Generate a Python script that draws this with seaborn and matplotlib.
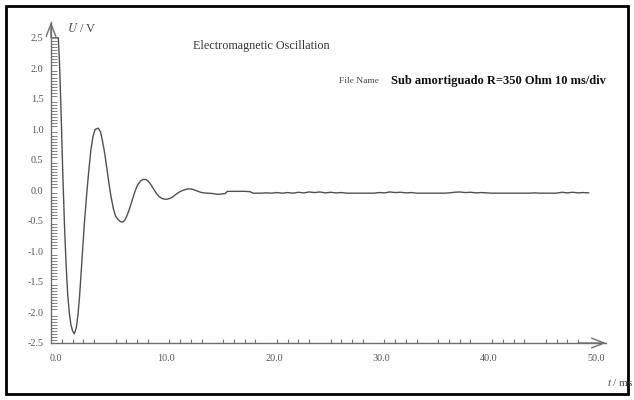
import numpy as np
import pandas as pd
import matplotlib
matplotlib.use("Agg")
import matplotlib.pyplot as plt
from matplotlib.patches import Rectangle
from matplotlib.ticker import FixedLocator, FuncFormatter
import matplotlib.transforms as mtransforms
import seaborn as sns

# ---- data ----
t_head = [0.15, 0.68, 0.80, 0.95, 1.10, 1.25, 1.40, 1.55, 1.70, 1.85, 2.00, 2.17,
          2.35, 2.50, 2.65, 2.80, 2.95, 3.10, 3.30, 3.50, 3.70, 3.90, 4.10, 4.40,
          4.60, 4.80, 5.00, 5.20, 5.40, 5.60, 5.80, 6.00, 6.20, 6.45, 6.65, 6.85,
          7.05, 7.30, 7.55, 7.80, 8.05, 8.30, 8.55, 8.80, 9.05, 9.30, 9.55, 9.80,
          10.05, 10.30, 10.60, 10.90, 11.20, 11.50, 11.80, 12.10, 12.40, 12.70,
          13.00, 13.30, 13.60, 13.90, 14.20, 14.50, 15.00, 15.50, 16.00, 16.20,
          16.40, 17.00, 17.50, 18.00, 18.50]
u_head = [2.50, 2.50, 2.05, 1.20, 0.25, -0.55, -1.20, -1.70, -2.00, -2.20, -2.30, -2.35,
          -2.25, -2.05, -1.75, -1.35, -0.95, -0.55, -0.10, 0.30, 0.65, 0.88, 1.00, 1.02,
          0.96, 0.80, 0.60, 0.35, 0.10, -0.12, -0.30, -0.42, -0.47, -0.51, -0.52, -0.49,
          -0.42, -0.30, -0.16, -0.02, 0.09, 0.15, 0.18, 0.18, 0.15, 0.09, 0.02, -0.05,
          -0.10, -0.13, -0.145, -0.14, -0.12, -0.08, -0.04, -0.01, 0.01, 0.025,
          0.025, 0.01, -0.01, -0.03, -0.04, -0.045, -0.05, -0.065, -0.055, -0.05,
          -0.015, -0.015, -0.015, -0.015, -0.02]
t_tail = [18.8, 19.0, 19.5, 20.0, 20.5, 21.0, 21.5, 22.0, 22.5, 23.0, 23.5, 24.0,
          24.5, 25.0, 25.5, 26.0, 26.5, 27.0, 27.5, 28.0, 28.5, 29.0, 29.5, 30.0,
          30.5, 31.0, 31.5, 32.0, 32.5, 33.0, 33.5, 34.0, 34.5, 35.0, 35.5, 36.0,
          36.5, 37.0, 37.5, 38.0, 38.5, 39.0, 39.5, 40.0, 40.5, 41.0, 41.5, 42.0,
          42.5, 43.0, 43.5, 44.0, 44.5, 45.0, 45.5, 46.0, 46.5, 47.0, 47.5, 48.0,
          48.5, 49.0, 49.5, 50.0]
u_tail = [-0.045, -0.045, -0.045, -0.04, -0.045, -0.035, -0.045, -0.035, -0.045, -0.03,
          -0.04, -0.025, -0.035, -0.025, -0.04, -0.03, -0.04, -0.035, -0.045, -0.045,
          -0.045, -0.045, -0.045, -0.045, -0.035, -0.04, -0.025, -0.035, -0.03, -0.04,
          -0.035, -0.045, -0.045, -0.045, -0.045, -0.045, -0.045, -0.04, -0.03, -0.025,
          -0.035, -0.03, -0.04, -0.035, -0.04, -0.045, -0.045, -0.045, -0.045, -0.045,
          -0.045, -0.045, -0.045, -0.04, -0.045, -0.045, -0.045, -0.045, -0.03, -0.04,
          -0.03, -0.04, -0.035, -0.04]

x_major = [0, 5, 10, 15, 20, 25, 30, 35, 40, 45, 50]
y_major = [-2.5, -2.0, -1.5, -1.0, -0.5, 0.0, 0.5, 1.0, 1.5, 2.0, 2.5]
title_text = "Electromagnetic Oscillation"
file_label = "File Name"
file_name = "Sub amortiguado R=350 Ohm 10 ms/div"

df = pd.DataFrame({"t": t_head + t_tail, "U": u_head + u_tail})

# ---- style ----
sns.set_style("white")
plt.rcParams["font.family"] = ["Liberation Serif", "DejaVu Serif"]
plt.rcParams["mathtext.fontset"] = "stix"

W, H = 634, 400
fig = plt.figure(figsize=(W / 100, H / 100), dpi=100)
ax = fig.add_axes([51 / W, 57 / H, (606 - 51) / W, (378 - 57) / H])

sns.lineplot(data=df, x="t", y="U", ax=ax, sort=False, estimator=None,
             color="#505050", linewidth=1.0)

ax.set_xlim(0, 51.6)
ax.set_ylim(-2.5, 2.76)
ax.set_xlabel("")
ax.set_ylabel("")

axis_col = "#6e6e6e"
for s in ["top", "right"]:
    ax.spines[s].set_visible(False)
for s in ["left", "bottom"]:
    ax.spines[s].set_color(axis_col)
    ax.spines[s].set_linewidth(1.0)

# x ticks
ax.xaxis.set_major_locator(FixedLocator(x_major))
ax.xaxis.set_major_formatter(FuncFormatter(lambda v, p: f"{v:.1f}" if v % 10 == 0 else ""))
ax.xaxis.set_minor_locator(FixedLocator([v for v in range(1, 50) if v % 5 != 0]))
ax.tick_params(axis="x", which="major", direction="out", length=4, width=0.8,
               color=axis_col, labelsize=7.3, labelcolor="#555555", pad=4)
ax.tick_params(axis="x", which="minor", direction="in", length=3, width=0.8,
               color=axis_col, bottom=True)
offset = mtransforms.ScaledTranslation(-1 / 100, 0, fig.dpi_scale_trans)
for lbl in ax.get_xticklabels():
    lbl.set_ha("left")
    lbl.set_transform(lbl.get_transform() + offset)
# y ticks
ax.yaxis.set_major_locator(FixedLocator(y_major))
ax.yaxis.set_major_formatter(FuncFormatter(lambda v, p: f"{v:.1f}"))
ax.yaxis.set_minor_locator(FixedLocator([round(-2.5 + 0.05 * i, 2) for i in range(101)]))
ax.tick_params(axis="y", which="major", direction="inout", length=7, width=0.8,
               color=axis_col, labelsize=7.3, labelcolor="#555555", pad=2)
ax.tick_params(axis="y", which="minor", direction="in", length=4, width=0.6,
               color=axis_col, left=True)

# axis arrows
ax.annotate("", xy=(1.0, 0), xycoords="axes fraction", xytext=(0.95, 0),
            arrowprops=dict(arrowstyle="->,head_length=0.9,head_width=0.35",
                            color=axis_col, lw=1.0, shrinkA=0, shrinkB=0))
ax.annotate("", xy=(0, 1.0), xycoords="axes fraction", xytext=(0, 0.95),
            arrowprops=dict(arrowstyle="->,head_length=0.9,head_width=0.35",
                            color=axis_col, lw=1.0, shrinkA=0, shrinkB=0))

# texts
fig.text(67 / W, 1 - 28 / H, "$U$ / V", fontsize=9, color="#444444", va="center", ha="left")
fig.text(633 / W, 1 - 382 / H, "$t$ / ms", fontsize=8, color="#444444", va="center", ha="right")
fig.text(193 / W, 1 - 46 / H, title_text, fontsize=8.7, color="#333333", va="center", ha="left")
fig.text(339 / W, 1 - 81 / H, file_label, fontsize=6.8, color="#444444", va="center", ha="left")
fig.text(391 / W, 1 - 81 / H, file_name, fontsize=9, color="#111111", va="center",
         ha="left", fontweight="bold")

# outer frame
fig.patches.append(Rectangle((6 / W, 6 / H), (628 - 6) / W, (394 - 6) / H,
                             transform=fig.transFigure, fill=False,
                             edgecolor="black", linewidth=2.0))

fig.savefig("out.png", dpi=100)
